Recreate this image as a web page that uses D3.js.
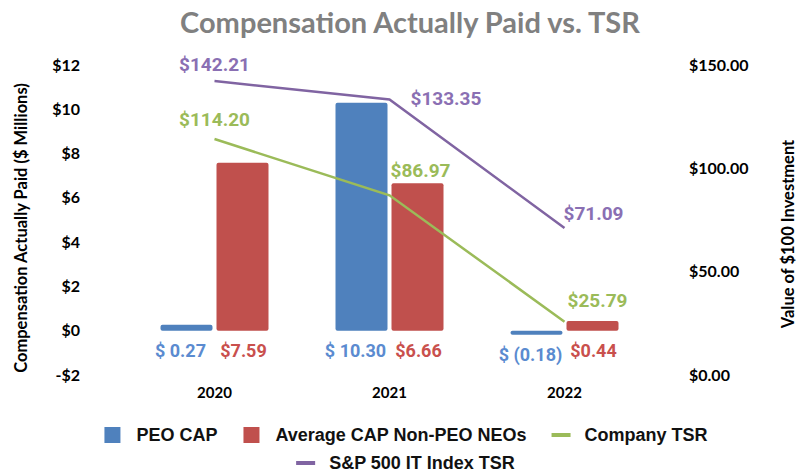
<!DOCTYPE html>
<html>
<head>
<meta charset="utf-8">
<script src="https://cdn.jsdelivr.net/npm/d3@7"></script>
<style>
  body { margin: 0; background: #fff; }
  svg { display: block; }
</style>
</head>
<body>
<div id="wrapper"></div>
<script>
// chart values
const years = ["2020", "2021", "2022"];
const peoCap = [0.27, 10.30, -0.18];
const avgCap = [7.59, 6.66, 0.44];
const companyTsr = [114.20, 86.97, 25.79];
const spTsr = [142.21, 133.35, 71.09];
const leftTicks = [-2, 0, 2, 4, 6, 8, 10, 12];
const rightTicks = [0, 50, 100, 150];

const colors = {
  peo: "#4f81bd",
  avg: "#c0504d",
  company: "#9bbb59",
  sp: "#8064a2"
};

const width = 799, height = 474;

const svg = d3.select("#wrapper")
  .append("svg")
  .attr("width", width)
  .attr("height", height);

// scales
const x0 = d3.scaleBand().domain(years).range([127, 652]);
const x1 = d3.scaleBand().domain(["peo", "avg"]).range([-54, 54]).paddingInner(4 / 56);
const yLeft = d3.scaleLinear().domain([-2, 12]).range([375, 65]);
const yRight = d3.scaleLinear().domain([0, 150]).range([375, 65]);
const cx = d => x0(d) + x0.bandwidth() / 2;

// title
svg.append("text")
  .attr("x", 410)
  .attr("y", 33)
  .attr("text-anchor", "middle")
  .style("font", "bold 29px Lato, sans-serif")
  .style("fill", "#808080")
  .text("Compensation Actually Paid vs. TSR");

// axes
const tickFont = "bold 16px Lato, sans-serif";

const leftAxis = svg.append("g")
  .attr("transform", "translate(80,0)")
  .call(d3.axisLeft(yLeft)
    .tickValues(leftTicks)
    .tickSize(0)
    .tickPadding(0)
    .tickFormat(v => (v < 0 ? "-$" : "$") + Math.abs(v)));
leftAxis.select(".domain").remove();
leftAxis.selectAll("text").style("font", tickFont).style("fill", "#000");

const rightAxis = svg.append("g")
  .attr("transform", "translate(689,0)")
  .call(d3.axisRight(yRight)
    .tickValues(rightTicks)
    .tickSize(0)
    .tickPadding(0)
    .tickFormat(v => "$" + v.toFixed(2)));
rightAxis.select(".domain").remove();
rightAxis.selectAll("text").style("font", tickFont).style("fill", "#000");

const bottomAxis = svg.append("g")
  .attr("transform", "translate(0,387)")
  .call(d3.axisBottom(x0).tickSize(0).tickPadding(0));
bottomAxis.select(".domain").remove();
bottomAxis.selectAll("text").style("font", "bold 15px Lato, sans-serif").style("fill", "#000");

// axis titles
svg.append("text")
  .attr("transform", "translate(27,228) rotate(-90)")
  .attr("text-anchor", "middle")
  .style("font", "bold 16.5px Lato, sans-serif")
  .text("Compensation Actually Paid ($ Millions)");

svg.append("text")
  .attr("transform", "translate(794,234) rotate(-90)")
  .attr("text-anchor", "middle")
  .style("font", "bold 16.5px Lato, sans-serif")
  .text("Value of $100 Investment");

// bars
const barData = years.map((y, i) => [
  { year: y, key: "peo", value: peoCap[i] },
  { year: y, key: "avg", value: avgCap[i] }
]).flat();

const fmtPeo = v => v < 0 ? "$ (" + Math.abs(v).toFixed(2) + ")" : "$ " + v.toFixed(2);
const fmtAvg = v => "$" + v.toFixed(2);

svg.append("g")
  .selectAll("rect")
  .data(barData)
  .join("rect")
  .attr("x", d => cx(d.year) + x1(d.key))
  .attr("y", d => yLeft(Math.max(0, d.value)))
  .attr("width", x1.bandwidth())
  .attr("height", d => Math.abs(yLeft(d.value) - yLeft(0)))
  .attr("rx", 2)
  .attr("fill", d => colors[d.key]);

svg.append("g")
  .selectAll("text")
  .data(barData)
  .join("text")
  .attr("x", d => cx(d.year) + x1(d.key) + x1.bandwidth() / 2 + (d.key === "peo" ? -6 : 1))
  .attr("y", d => yLeft(Math.min(0, d.value)) + 20)
  .attr("text-anchor", "middle")
  .attr("dominant-baseline", "central")
  .style("font", "bold 18px Roboto, sans-serif")
  .style("fill", d => d.key === "peo" ? "#5b8bd0" : "#c9504d")
  .text(d => d.key === "peo" ? fmtPeo(d.value) : fmtAvg(d.value));

// lines
const lineGen = d3.line()
  .x(d => cx(d.year))
  .y(d => yRight(d.value));

const lineSeries = [
  { key: "company", values: companyTsr, labelColor: "#9bbb59",
    place: [{ dx: 0, dy: -19, anchor: "middle" }, { dx: 1, dy: -25, anchor: "start" }, { dx: 3, dy: -21, anchor: "start" }] },
  { key: "sp", values: spTsr, labelColor: "#8a6fb3",
    place: [{ dx: 0, dy: -17, anchor: "middle" }, { dx: 21, dy: -1, anchor: "start" }, { dx: -1, dy: -15, anchor: "start" }] }
];

lineSeries.forEach(s => {
  const pts = years.map((y, i) => ({ year: y, value: s.values[i] }));
  svg.append("path")
    .datum(pts)
    .attr("d", lineGen)
    .attr("fill", "none")
    .attr("stroke", colors[s.key])
    .attr("stroke-width", 2.5);

  svg.append("g")
    .selectAll("text")
    .data(pts)
    .join("text")
    .attr("x", (d, i) => cx(d.year) + s.place[i].dx)
    .attr("y", (d, i) => yRight(d.value) + s.place[i].dy)
    .attr("text-anchor", (d, i) => s.place[i].anchor)
    .attr("dominant-baseline", "central")
    .style("font", "bold 19px Roboto, sans-serif")
    .style("fill", s.labelColor)
    .text(d => "$" + d.value.toFixed(2));
});

// legend
const legendFont = "bold 18px 'Liberation Sans Narrow', 'Arial Narrow', sans-serif";
const legendRows = [
  [
    { label: "PEO CAP", key: "peo", type: "box" },
    { label: "Average CAP Non-PEO NEOs", key: "avg", type: "box" },
    { label: "Company TSR", key: "company", type: "line" }
  ],
  [
    { label: "S&P 500 IT Index TSR", key: "sp", type: "line" }
  ]
];
const legendY = [435, 463];
const legendCenter = 406;

legendRows.forEach((row, r) => {
  const g = svg.append("g");
  let x = 0;
  row.forEach(item => {
    const ig = g.append("g").attr("transform", `translate(${x},0)`);
    if (item.type === "box") {
      ig.append("rect")
        .attr("x", 0).attr("y", -8)
        .attr("width", 16).attr("height", 16)
        .attr("fill", colors[item.key]);
    } else {
      ig.append("rect")
        .attr("x", -1).attr("y", -2)
        .attr("width", 19).attr("height", 4)
        .attr("fill", colors[item.key]);
    }
    const t = ig.append("text")
      .attr("x", 32)
      .attr("y", 0)
      .attr("dominant-baseline", "central")
      .style("font", legendFont)
      .style("fill", "#111")
      .text(item.label);
    x += 32 + t.node().getComputedTextLength() + 26;
  });
  const total = x - 26;
  g.attr("transform", `translate(${legendCenter - total / 2},${legendY[r]})`);
});
</script>
</body>
</html>
